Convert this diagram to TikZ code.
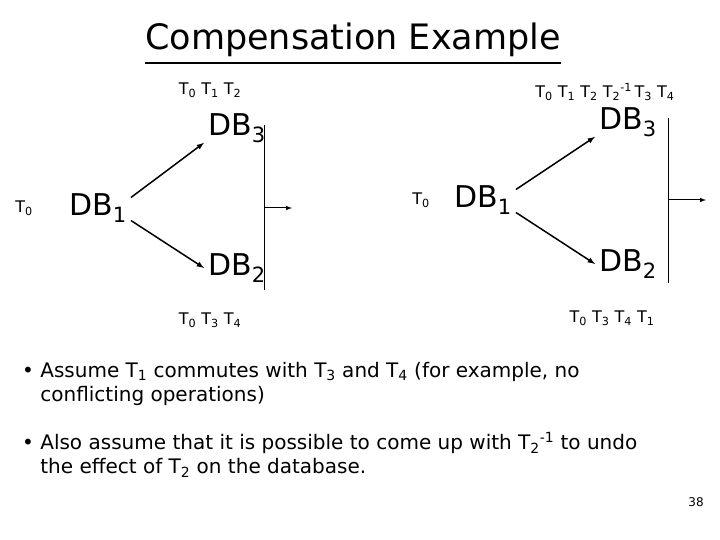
\documentclass[tikz,border=0pt]{standalone}
\usepackage{fontspec}
\setmainfont{DejaVu Sans}
\newcommand{\sub}[1]{\textsubscript{#1}}
\newcommand{\inv}{\textsuperscript{-1}}
\begin{document}
\begin{tikzpicture}[x=1pt,y=-1pt,
                    db/.style={font=\fontsize{30}{32}\selectfont,inner sep=0pt},
                    tlabel/.style={font=\fontsize{16}{18}\selectfont,inner sep=0pt},
                    step arrow/.style={-latex, line width=1.5pt},
                    bullet/.style={font=\fontsize{20}{24}\selectfont,anchor=north west,align=left,inner sep=0pt},
                   ]
  \useasboundingbox (0,0) rectangle (720,540);
  \node[font=\fontsize{35}{37}\selectfont,inner sep=0pt] (title) at (353,40) {Compensation Example};
  \draw[line width=1.5pt] ([yshift=-6pt]title.south west) -- ([yshift=-6pt]title.south east);

  % left state
  \node[tlabel] (t0a) at (24,208) {T\sub{0}};
  \node[db] (db1a) at (98,208) {DB\sub{1}};
  \node[db] (db3a) at (237,128) {DB\sub{3}};
  \node[db] (db2a) at (237,268) {DB\sub{2}};
  \node[tlabel] (topa) at (210,90) {T\sub{0} T\sub{1} T\sub{2}};
  \node[tlabel] (bota) at (210,320) {T\sub{0} T\sub{3} T\sub{4}};
  \coordinate (la) at (264,125);
  \coordinate (lb) at (264,290);
  \coordinate (lm) at (264,208);
  \coordinate (le) at (292,208);
  \draw[step arrow] (db1a.north east) ++(4,4) -- ([xshift=-4pt]db3a.south west);
  \draw[step arrow] (db1a.south east) ++(4,-2) -- ([xshift=-4pt]db2a.west);
  \draw (la) -- (lb);
  \draw[step arrow, line width=1pt] (lm) -- (le);

  % right state
  \node[tlabel] (t0b) at (421,200) {T\sub{0}};
  \node[db] (db1b) at (483,200) {DB\sub{1}};
  \node[db] (db3b) at (628,122) {DB\sub{3}};
  \node[db] (db2b) at (628,264) {DB\sub{2}};
  \node[tlabel] (topb) at (605,92) {T\sub{0} T\sub{1} T\sub{2} T\sub{2}\inv\,T\sub{3} T\sub{4}};
  \node[tlabel] (botb) at (612,318) {T\sub{0} T\sub{3} T\sub{4} T\sub{1}};
  \coordinate (ra) at (668,118);
  \coordinate (rb) at (668,283);
  \coordinate (rm) at (668,200);
  \coordinate (re) at (706,200);
  \draw[step arrow] (db1b.north east) ++(4,4) -- ([xshift=-4pt]db3b.south west);
  \draw[step arrow] (db1b.south east) ++(4,-2) -- ([xshift=-4pt]db2b.west);
  \draw (ra) -- (rb);
  \draw[step arrow, line width=1pt] (rm) -- (re);

  \node[bullet] (b1) at (22,362) {\textbullet\ Assume T\sub{1} commutes with T\sub{3} and T\sub{4} (for example, no\\\phantom{\textbullet\ }conflicting operations)};
  \node[bullet] (b2) at (22,432) {\textbullet\ Also assume that it is possible to come up with T\sub{2}\inv\ to undo\\\phantom{\textbullet\ }the effect of T\sub{2} on the database.};
  \node[font=\fontsize{12}{14}\selectfont] (page) at (696,502) {38};
\end{tikzpicture}
\end{document}
